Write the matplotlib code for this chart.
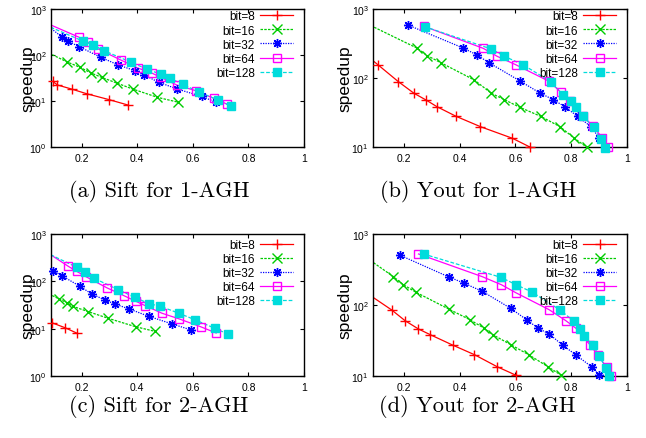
import numpy as np
import matplotlib
matplotlib.use('Agg')
import matplotlib.pyplot as plt
from matplotlib.lines import Line2D
from matplotlib.ticker import LogLocator, NullLocator, FixedLocator

plt.rcParams['font.family'] = ['Liberation Sans', 'DejaVu Sans']
plt.rcParams['mathtext.default'] = 'regular'

BITS = [8, 16, 32, 64, 128]
XMIN = 0.09

# (a) Sift for 1-AGH  (first point of some series lies just left of the x range)
sift1_x8 = [0.096, 0.113, 0.164, 0.218, 0.299, 0.366]
sift1_y8 = [26.8, 22.3, 18.2, 14.4, 10.7, 8.2]
sift1_x16 = [0.07, 0.146, 0.194, 0.234, 0.272, 0.326, 0.384, 0.473, 0.548]
sift1_y16 = [120, 71.5, 54, 40.6, 32.7, 24.6, 18.2, 12.0, 9.4]
sift1_x32 = [0.07, 0.128, 0.152, 0.191, 0.269, 0.332, 0.392, 0.425, 0.478, 0.544, 0.632, 0.684]
sift1_y32 = [470, 250, 199, 152, 89, 60.6, 45.6, 36.7, 25.5, 18.2, 12.6, 9.4]
sift1_x64 = [0.07, 0.191, 0.224, 0.260, 0.341, 0.402, 0.452, 0.485, 0.542, 0.610, 0.676, 0.722]
sift1_y64 = [505, 243, 189, 135, 77.8, 52.2, 40.6, 32.7, 22.3, 16.8, 11.4, 8.6]
sift1_x128 = [0.07, 0.206, 0.242, 0.281, 0.378, 0.434, 0.485, 0.518, 0.564, 0.623, 0.692, 0.736]
sift1_y128 = [450, 199, 165, 124, 69.4, 49.6, 38.0, 31.1, 23.1, 15.5, 10.5, 7.7]

# (b) Yout for 1-AGH
yout1_x8 = [0.07, 0.109, 0.181, 0.237, 0.280, 0.319, 0.388, 0.475, 0.589, 0.652]
yout1_y8 = [207, 154, 88.4, 60, 48, 38.4, 27.8, 19.7, 13.4, 10]
yout1_x16 = [0.07, 0.247, 0.285, 0.335, 0.453, 0.514, 0.561, 0.616, 0.691, 0.760, 0.811, 0.855]
yout1_y16 = [607, 272, 210, 165, 93.5, 60, 48.5, 37.6, 27.8, 19.7, 13.4, 10]
yout1_x32 = [0.215, 0.413, 0.463, 0.507, 0.615, 0.688, 0.736, 0.777, 0.823, 0.871, 0.901, 0.921]
yout1_y32 = [586, 272, 215, 165, 91.4, 60.6, 48.5, 38.4, 27.8, 19.7, 13.4, 10]
yout1_x64 = [0.273, 0.485, 0.535, 0.601, 0.721, 0.763, 0.796, 0.843, 0.879, 0.912, 0.932]
yout1_y64 = [561, 269, 206, 156, 89.5, 62.1, 46.9, 27.8, 20, 13.4, 10]
yout1_x128 = [0.275, 0.514, 0.561, 0.627, 0.727, 0.771, 0.799, 0.819, 0.843, 0.880, 0.907, 0.921]
yout1_y128 = [554, 263, 206, 156, 88.4, 57.3, 45.9, 38.4, 27.8, 19.3, 13.1, 9.6]

# (c) Sift for 2-AGH
sift2_x8 = [0.095, 0.140, 0.184]
sift2_y8 = [13.2, 10.5, 8.0]
sift2_x16 = [0.07, 0.119, 0.149, 0.168, 0.224, 0.295, 0.394, 0.463]
sift2_y16 = [58.7, 42.5, 34.9, 29.7, 22.9, 16.6, 11.0, 8.8]
sift2_x32 = [0.098, 0.128, 0.194, 0.236, 0.284, 0.319, 0.371, 0.441, 0.525, 0.594]
sift2_y32 = [168, 132, 78.7, 54.2, 40.4, 33.3, 26.1, 18.3, 12.6, 9.4]
sift2_x64 = [0.07, 0.152, 0.182, 0.215, 0.292, 0.352, 0.395, 0.429, 0.489, 0.552, 0.628, 0.684]
sift2_y64 = [431, 208, 163, 126, 72.5, 49.9, 37.9, 30.6, 21.2, 16.0, 11.0, 8.1]
sift2_x128 = [0.07, 0.182, 0.212, 0.245, 0.331, 0.391, 0.442, 0.483, 0.550, 0.609, 0.679, 0.726]
sift2_y128 = [412, 199, 156, 116, 66.8, 46.1, 33.8, 29.7, 21.2, 15.3, 10.2, 7.7]

# (d) Yout for 2-AGH
yout2_x8 = [0.07, 0.157, 0.205, 0.253, 0.295, 0.375, 0.453, 0.535, 0.601]
yout2_y8 = [145, 85.1, 60.1, 45.9, 38.2, 27.3, 20, 13.5, 10.3]
yout2_x16 = [0.07, 0.163, 0.199, 0.244, 0.361, 0.437, 0.487, 0.519, 0.586, 0.649, 0.717, 0.763]
yout2_y16 = [453, 251, 193, 151, 87.8, 62.1, 47.4, 38.2, 27.3, 19.8, 13.5, 10.3]
yout2_x32 = [0.185, 0.364, 0.415, 0.481, 0.583, 0.640, 0.682, 0.721, 0.769, 0.817, 0.873, 0.900]
yout2_y32 = [506, 246, 204, 156, 89.9, 62.1, 47, 39.1, 27.3, 19.8, 13.5, 10.3]
yout2_x64 = [0.253, 0.481, 0.550, 0.603, 0.721, 0.781, 0.817, 0.868, 0.895, 0.927, 0.943]
yout2_y64 = [523, 251, 193, 148, 85.9, 60.1, 47, 27.3, 19.8, 13.3, 10.1]
yout2_x128 = [0.271, 0.547, 0.603, 0.661, 0.760, 0.810, 0.832, 0.846, 0.877, 0.900, 0.925, 0.936]
yout2_y128 = [523, 246, 193, 151, 85.1, 58.9, 45.9, 37, 27.3, 19.3, 12.8, 10.1]

# colour, marker, linestyle, filled
STYLE = {
    8: ('#ff0000', '+', '-', True),
    16: ('#00cc00', 'x', (0, (2, 1)), True),
    32: ('#0000ff', (8, 2, 0), (0, (1, 1)), True),
    64: ('#ff00ff', 's', '-', False),
    128: ('#00dcdc', 's', (0, (3, 1.5)), True),
}


def marker_kw(bit):
    c, m, ls, filled = STYLE[bit]
    kw = dict(marker=m, color=c, mec=c, mew=1.0, ms=6.5)
    if m == 's':
        kw['ms'] = 6
        kw['mfc'] = c if filled else 'none'
    return kw


def draw(ax, series, ylo, legend_top, label_x):
    for bit, (xs, ys) in zip(BITS, series):
        c, m, ls, filled = STYLE[bit]
        xs = np.asarray(xs)
        ys = np.asarray(ys)
        ax.plot(xs, ys, color=c, ls=ls, lw=0.9)
        inside = xs >= XMIN
        ax.plot(xs[inside], ys[inside], ls='none', clip_on=False, zorder=3,
                **marker_kw(bit))

    ax.set_yscale('log')
    ax.set_xlim(XMIN, 1.0)
    ax.set_ylim(ylo, 1000)
    ax.xaxis.set_major_locator(FixedLocator([0.2, 0.4, 0.6, 0.8, 1.0]))
    ax.set_xticklabels(['0.2', '0.4', '0.6', '0.8', '1'])
    ax.yaxis.set_major_locator(LogLocator(base=10, numticks=10))
    ax.yaxis.set_minor_locator(NullLocator())
    ax.tick_params(direction='in', top=True, right=True, length=3, width=0.8,
                   labelsize=7.5)
    ax.tick_params(axis='x', pad=4)
    ax.tick_params(axis='y', pad=3)
    for sp in ax.spines.values():
        sp.set_linewidth(1.0)

    # gnuplot puts the label right over the tick labels
    ax.set_ylabel('speedup', fontsize=12.5)
    ax.yaxis.set_label_coords(label_x, 0.5)

    handles = []
    for bit in BITS:
        c, m, ls, filled = STYLE[bit]
        handles.append(Line2D([], [], ls=ls, lw=0.9, **marker_kw(bit)))
    ax.legend(handles, ['bit=%d' % b for b in BITS], loc='upper right',
              bbox_to_anchor=(0.957, legend_top), frameon=False,
              markerfirst=False, handlelength=2.8, handletextpad=0.45,
              labelspacing=0.18, borderpad=0, borderaxespad=0, fontsize=8.5)


fig = plt.figure(figsize=(6.46, 4.39), dpi=100)
W, H = 646.0, 439.0

ax_a = fig.add_axes([51 / W, 1 - 148 / H, 253 / W, 138 / H])
ax_b = fig.add_axes([373 / W, 1 - 148 / H, 254 / W, 138 / H])
ax_c = fig.add_axes([51 / W, 1 - 377 / H, 253 / W, 142 / H])
ax_d = fig.add_axes([373 / W, 1 - 377 / H, 254 / W, 142 / H])

draw(ax_a, [(sift1_x8, sift1_y8), (sift1_x16, sift1_y16), (sift1_x32, sift1_y32),
            (sift1_x64, sift1_y64), (sift1_x128, sift1_y128)],
     1, 0.99, -0.06)
draw(ax_b, [(yout1_x8, yout1_y8), (yout1_x16, yout1_y16), (yout1_x32, yout1_y32),
            (yout1_x64, yout1_y64), (yout1_x128, yout1_y128)],
     10, 0.99, -0.08)
draw(ax_c, [(sift2_x8, sift2_y8), (sift2_x16, sift2_y16), (sift2_x32, sift2_y32),
            (sift2_x64, sift2_y64), (sift2_x128, sift2_y128)],
     1, 0.965, -0.06)
draw(ax_d, [(yout2_x8, yout2_y8), (yout2_x16, yout2_y16), (yout2_x32, yout2_y32),
            (yout2_x64, yout2_y64), (yout2_x128, yout2_y128)],
     10, 0.965, -0.08)

cap_font = dict(family=['cmr10', 'DejaVu Serif'], fontsize=16, ha='center', va='center')
fig.text(159 / W, 1 - 192 / H, '(a) Sift for 1-AGH', **cap_font)
fig.text(478 / W, 1 - 192 / H, '(b) Yout for 1-AGH', **cap_font)
fig.text(159 / W, 1 - 407 / H, '(c) Sift for 2-AGH', **cap_font)
fig.text(477 / W, 1 - 407 / H, '(d) Yout for 2-AGH', **cap_font)

fig.savefig('out.png', dpi=100)
